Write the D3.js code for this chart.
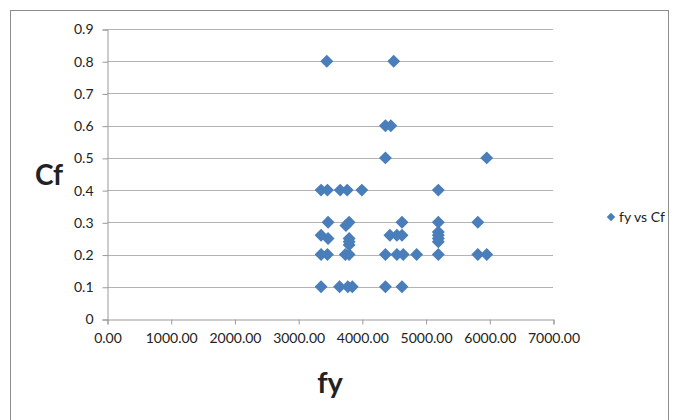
<!DOCTYPE html>
<html>
<head>
<meta charset="utf-8">
<script src="https://cdn.jsdelivr.net/npm/d3@7"></script>
<style>
  html, body { margin: 0; padding: 0; background: #fff; }
  svg { display: block; }
  text { font-family: Lato, "Open Sans", sans-serif; fill: #222; }
</style>
</head>
<body>
<div id="chart"></div>
<script>
// Yield strength (fy) against coefficient Cf
const fyValues = [
  3450, 4500,
  4370, 4455,
  4370, 5960,
  3360, 3460, 3660, 3770, 4000, 5200,
  3470, 3800, 4630, 5200, 5820,
  3750,
  3360, 4440, 4550, 4630, 5200, 5200,
  3470, 3800, 5200,
  3800, 5200,
  3800,
  3360, 3460, 3740, 3800, 4370, 4550, 4650, 4860, 5200, 5820, 5960,
  3360, 3650, 3780, 3850, 4370, 4630
];
const cfValues = [
  0.8, 0.8,
  0.6, 0.6,
  0.5, 0.5,
  0.4, 0.4, 0.4, 0.4, 0.4, 0.4,
  0.3, 0.3, 0.3, 0.3, 0.3,
  0.29,
  0.26, 0.26, 0.26, 0.26, 0.26, 0.27,
  0.25, 0.25, 0.25,
  0.24, 0.24,
  0.23,
  0.2, 0.2, 0.2, 0.2, 0.2, 0.2, 0.2, 0.2, 0.2, 0.2, 0.2,
  0.1, 0.1, 0.1, 0.1, 0.1, 0.1
];
const xTickValues = [0, 1000, 2000, 3000, 4000, 5000, 6000, 7000];
const yTickValues = [0, 0.1, 0.2, 0.3, 0.4, 0.5, 0.6, 0.7, 0.8, 0.9];
const seriesName = "fy vs Cf";
const xTitle = "fy";
const yTitle = "Cf";

const W = 675, H = 420;
const plot = { left: 107, right: 553, top: 29, bottom: 319 };
const markColor = "#4a7ebb";
const gridColor = "#b3b3b3";
const axisColor = "#9a9a9a";

const svg = d3.select("#chart").append("svg")
  .attr("width", W).attr("height", H);

// chart frame
svg.append("rect")
  .attr("x", 10.5).attr("y", 10.5)
  .attr("width", 658).attr("height", 430)
  .attr("fill", "#fff").attr("stroke", "#8c8c8c").attr("stroke-width", 1);

const x = d3.scaleLinear().domain([0, 7000]).range([plot.left, plot.right]);
const y = d3.scaleLinear().domain([0, 0.9]).range([plot.bottom, plot.top]);

// horizontal gridlines
svg.append("g")
  .selectAll("line")
  .data(yTickValues.filter(v => v > 0))
  .join("line")
  .attr("x1", plot.left).attr("x2", plot.right)
  .attr("y1", d => Math.round(y(d)) + 0.5).attr("y2", d => Math.round(y(d)) + 0.5)
  .attr("stroke", gridColor).attr("stroke-width", 1);

// y axis
const yAxis = svg.append("g")
  .attr("transform", `translate(${plot.left + 0.5},0.5)`)
  .call(d3.axisLeft(y).tickValues(yTickValues).tickSize(5).tickPadding(9)
    .tickFormat(d => d === 0 ? "0" : d3.format(".1f")(d)));
yAxis.select(".domain").attr("stroke", axisColor);
yAxis.selectAll(".tick line").attr("stroke", axisColor);
yAxis.selectAll(".tick text").style("font-size", "14px").attr("fill", "#222");

// x axis
const xAxis = svg.append("g")
  .attr("transform", `translate(0.5,${plot.bottom + 0.5})`)
  .call(d3.axisBottom(x).tickValues(xTickValues).tickSize(5).tickPadding(9)
    .tickFormat(d3.format(".2f")));
xAxis.select(".domain").attr("stroke", axisColor);
xAxis.selectAll(".tick line").attr("stroke", axisColor);
xAxis.selectAll(".tick text").style("font-size", "14px").attr("fill", "#222");

// axis titles
svg.append("text")
  .attr("x", 49).attr("y", 185)
  .attr("text-anchor", "middle")
  .style("font-size", "28px").style("font-weight", "bold")
  .text(yTitle);
svg.append("text")
  .attr("x", 330).attr("y", 393)
  .attr("text-anchor", "middle")
  .style("font-size", "29px").style("font-weight", "bold")
  .text(xTitle);

// diamond markers
const diamond = d3.symbol().type(d3.symbolSquare).size(84);
const points = fyValues.map((v, i) => ({ fy: v, cf: cfValues[i] }));
svg.append("g")
  .selectAll("path")
  .data(points)
  .join("path")
  .attr("d", diamond)
  .attr("transform", d => `translate(${x(d.fy)},${y(d.cf)}) rotate(45)`)
  .attr("fill", markColor);

// legend
const legend = svg.append("g").attr("transform", "translate(611,217)");
legend.append("path")
  .attr("d", d3.symbol().type(d3.symbolSquare).size(36))
  .attr("transform", "rotate(45)")
  .attr("fill", markColor);
legend.append("text")
  .attr("x", 8).attr("y", 5)
  .style("font-size", "14px")
  .text(seriesName);
</script>
</body>
</html>
